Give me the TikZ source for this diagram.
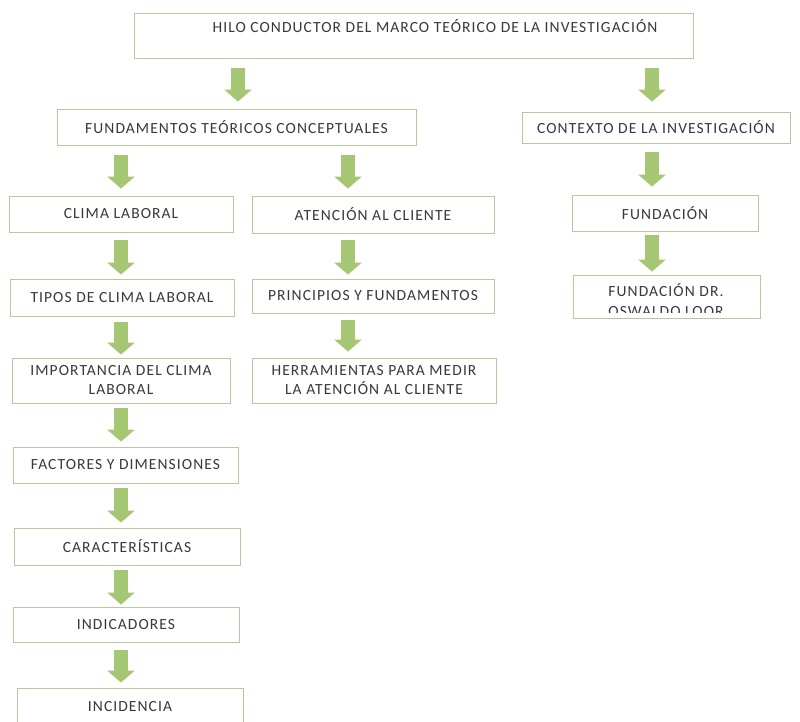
\documentclass[tikz,border=0pt]{standalone}
\usepackage{fontspec}
\setmainfont{Carlito}[LetterSpace=7]
\usetikzlibrary{arrows.meta}
\definecolor{boxline}{HTML}{B7C89E}
\definecolor{arrowgreen}{HTML}{A5C673}
\definecolor{txt}{HTML}{383838}
\tikzset{
  box/.style={draw=boxline, line width=0.9pt, fill=white, rectangle, inner sep=2pt,
    text=txt, font=\fontsize{15.5}{19}\selectfont, align=center},
  lbl/.style={text=txt, font=\fontsize{15.5}{19}\selectfont, align=center, inner sep=0pt},
  garrow/.style={draw=arrowgreen, line width=14pt,
    -{Triangle[width=27pt,length=12pt,fill=arrowgreen]}}
}
\newcommand\conn[5]{\draw[garrow] ([yshift=-#3pt]#1.south -| #5,0) -- ([yshift=#4pt]#2.north -| #5,0);}
\begin{document}
\begin{tikzpicture}[x=1pt,y=-1pt]
\clip (0,0) rectangle (800,722);
\fill[white] (0,0) rectangle (800,722);
% boxes
\node[box, minimum width=559pt, minimum height=45pt] (top) at (413.5,35.5) {};
\node[lbl] (toplbl) at (435,26) {HILO CONDUCTOR DEL MARCO TEÓRICO DE LA INVESTIGACIÓN};
\node[box, minimum width=359pt, minimum height=36pt] (fund) at (236.5,127) {FUNDAMENTOS TEÓRICOS CONCEPTUALES};
\node[box, minimum width=268pt, minimum height=31pt] (ctx) at (656,127.5) {CONTEXTO DE LA INVESTIGACIÓN};
\node[box, minimum width=224pt, minimum height=36pt] (clima) at (121,214) {CLIMA LABORAL};
\node[box, minimum width=242pt, minimum height=37pt] (aten) at (373,214.5) {ATENCIÓN AL CLIENTE};
\node[box, minimum width=224pt, minimum height=37pt] (tipos) at (122,297.5) {TIPOS DE CLIMA LABORAL};
\node[box, minimum width=242pt, minimum height=34pt] (princ) at (373,296) {PRINCIPIOS Y FUNDAMENTOS};
\node[box, minimum width=218pt, minimum height=45pt] (impor) at (121,380.5) {IMPORTANCIA DEL CLIMA\\LABORAL};
\node[box, minimum width=244pt, minimum height=45pt] (herr) at (374,380.5) {HERRAMIENTAS PARA MEDIR\\LA ATENCIÓN AL CLIENTE};
\node[box, minimum width=225pt, minimum height=36pt] (fact) at (125.5,465) {FACTORES Y DIMENSIONES};
\node[box, minimum width=226pt, minimum height=37pt] (carac) at (127,546.5) {CARACTERÍSTICAS};
\node[box, minimum width=226pt, minimum height=35pt] (indic) at (126,624.5) {INDICADORES};
\node[box, minimum width=226pt, minimum height=37pt] (incid) at (130,706.5) {INCIDENCIA};
\node[box, minimum width=186pt, minimum height=36pt] (fundn) at (665,213) {FUNDACIÓN};
\node[box, minimum width=187pt, minimum height=43pt] (fdr) at (666.5,296.5) {};
\begin{scope}
  \clip (574,276) rectangle (759,312);
  \node[lbl, font=\fontsize{15.5}{20}\selectfont] (fdrlbl) at (666,300) {FUNDACIÓN DR.\\OSWALDO LOOR};
\end{scope}
% connectors
\conn{top}{fund}{10}{7}{238}
\conn{top}{ctx}{10}{10}{652}
\conn{fund}{clima}{10}{7}{121}
\conn{fund}{aten}{10}{7}{348}
\conn{ctx}{fundn}{9}{8}{652}
\conn{clima}{tipos}{8}{4}{121}
\conn{aten}{princ}{7}{4}{348}
\conn{tipos}{impor}{6}{3}{121}
\conn{princ}{herr}{7}{6}{348}
\conn{impor}{fact}{5}{5}{121}
\conn{fact}{carac}{5}{5}{121}
\conn{carac}{indic}{5}{2}{121}
\conn{indic}{incid}{8}{5}{121}
\conn{fundn}{fdr}{4}{3}{652}
\end{tikzpicture}
\end{document}
